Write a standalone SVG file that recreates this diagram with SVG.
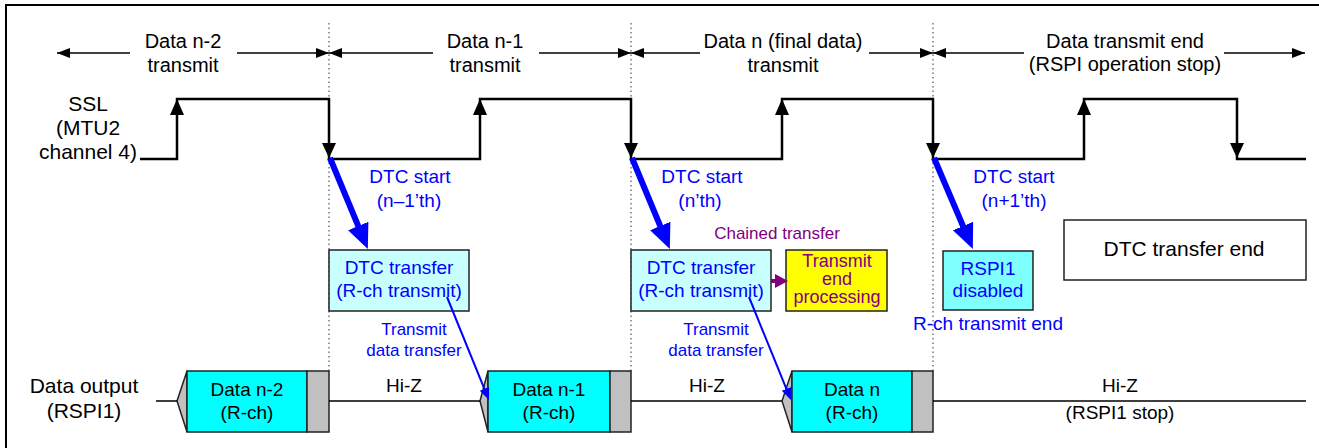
<svg xmlns="http://www.w3.org/2000/svg" width="1319" height="448" viewBox="0 0 1319 448">
<style>
text{font-family:"Liberation Sans",Arial,Helvetica,sans-serif;font-size:19px;text-anchor:middle;fill:#000}
.b{fill:#0000FF}
.p{fill:#800080}
.s17{font-size:17px}
.s18{font-size:18px}
.s20{font-size:20px}
.s21{font-size:21px}
.dot{stroke:#555;stroke-width:1.2;stroke-dasharray:1.5 3;fill:none}
.dim{stroke:#000;stroke-width:1.5;fill:none}
.wave{stroke:#000;stroke-width:2.5;fill:none}
.hz{stroke:#000;stroke-width:1.5;fill:none}
.cy{fill:#00FFFF;stroke:#222;stroke-width:1.5}
.gr{fill:#C0C0C0;stroke:#222;stroke-width:1.5}
.lc{fill:#C8FFFF;stroke:#222;stroke-width:1.5}
.mc{fill:#80FFFF;stroke:#222;stroke-width:1.5}
.ye{fill:#FFFF00;stroke:#222;stroke-width:1.5}
.wh{fill:#FFFFFF;stroke:#222;stroke-width:1.5}
.ah{fill:#000}
.thick{stroke:#0000FF;stroke-width:6;fill:none}
.thin{stroke:#0000FF;stroke-width:2;fill:none}
.pl{stroke:#800080;stroke-width:4;fill:none}
</style>
<defs>
<marker id="bigB" markerUnits="userSpaceOnUse" markerWidth="26" markerHeight="24" refX="2" refY="11" orient="auto"><path d="M0,0L25,11L0,22z" fill="#0000FF"/></marker>
<marker id="smB" markerUnits="userSpaceOnUse" markerWidth="13" markerHeight="11" refX="1" refY="5" orient="auto"><path d="M0,0L12,5L0,10z" fill="#0000FF"/></marker>
<marker id="pu" markerUnits="userSpaceOnUse" markerWidth="14" markerHeight="15" refX="1" refY="7" orient="auto"><path d="M0,0L13,7L0,14z" fill="#800080"/></marker>
<marker id="dimA" markerUnits="userSpaceOnUse" markerWidth="14" markerHeight="11" refX="13" refY="5" orient="auto"><path d="M0,0L13,5L0,10z" fill="#000"/></marker>
</defs>

<rect x="6" y="5" width="1330" height="460" fill="none" stroke="#000" stroke-width="2"/>

<g id="guides">
<line class="dot" x1="329" y1="23" x2="329" y2="371"/>
<line class="dot" x1="631" y1="23" x2="631" y2="371"/>
<line class="dot" x1="933" y1="23" x2="933" y2="371"/>
</g>

<g id="period-labels">
<text class="s20" x="183" y="48">Data n-2</text><text class="s20" x="183" y="72">transmit</text>
<text class="s20" x="485" y="48">Data n-1</text><text class="s20" x="485" y="72">transmit</text>
<text class="s20" x="783" y="48">Data n (final data)</text><text class="s20" x="783" y="72">transmit</text>
<text class="s20" x="1125" y="48">Data transmit end</text><text class="s20" x="1125" y="71">(RSPI operation stop)</text>
</g>

<g id="ssl">
<text class="s21" x="88" y="111">SSL</text>
<text class="s21" x="88" y="135">(MTU2</text>
<text class="s21" x="88" y="159">channel 4)</text>
<path class="wave" d="M140,159H177V99H329V159H480V99H631V159H782V99H933V159H1084V99H1237V159H1306"/>
<polygon class="ah" points="177,99 170,115 184,115"/>
<polygon class="ah" points="480,99 473,115 487,115"/>
<polygon class="ah" points="782,99 775,115 789,115"/>
<polygon class="ah" points="1084,99 1077,115 1091,115"/>
<polygon class="ah" points="329,158 322,143 336,143"/>
<polygon class="ah" points="631,158 624,143 638,143"/>
<polygon class="ah" points="933,158 926,143 940,143"/>
<polygon class="ah" points="1237,158 1230,143 1244,143"/>
</g>

<g id="dtc-start-labels">
<text class="b" x="410" y="183">DTC start</text><text class="b" x="409" y="207">(n–1’th)</text>
<text class="b" x="702" y="183">DTC start</text><text class="b" x="700" y="207">(n’th)</text>
<text class="b" x="1014" y="183">DTC start</text><text class="b" x="1014" y="207">(n+1’th)</text>
<text class="p s17" x="777" y="239">Chained transfer</text>
<text class="b s17" x="414" y="335">Transmit</text><text class="b s17" x="414" y="356">data transfer</text>
<text class="b s17" x="716" y="335">Transmit</text><text class="b s17" x="716" y="356">data transfer</text>
<text class="b" x="988" y="330">R-ch transmit end</text>
</g>

<g id="dtc-transfer-1">
<rect class="lc" x="329" y="250" width="140" height="61"/>
<text class="b" x="399" y="274">DTC transfer</text>
<text class="b" x="399" y="297">(R-ch transmit)</text>
</g>
<g id="dtc-transfer-2">
<rect class="lc" x="631" y="250" width="140" height="61"/>
<text class="b" x="701" y="274">DTC transfer</text>
<text class="b" x="701" y="297">(R-ch transmit)</text>
</g>
<g id="transmit-end-processing">
<rect class="ye" x="786" y="250" width="101" height="61"/>
<text class="p s18" x="837" y="267">Transmit</text>
<text class="p s18" x="837" y="285">end</text>
<text class="p s18" x="837" y="303">processing</text>
</g>
<g id="rspi1-disabled">
<rect class="mc" x="943" y="251" width="90" height="59"/>
<text class="b" x="988" y="275">RSPI1</text>
<text class="b" x="988" y="297">disabled</text>
</g>
<g id="dtc-transfer-end">
<rect class="wh" x="1064" y="220" width="242" height="60"/>
<text class="s21" x="1184" y="256">DTC transfer end</text>
</g>

<g id="data-output">
<text class="s21" x="84" y="393">Data output</text>
<text class="s21" x="84" y="418">(RSPI1)</text>
<text x="404" y="392">Hi-Z</text>
<text x="707" y="392">Hi-Z</text>
<text x="1120" y="392">Hi-Z</text>
<text x="1120" y="419">(RSPI1 stop)</text>
</g>

<g id="data-n-2">
<polygon class="gr" points="177,401 187,371 187,432"/>
<rect class="cy" x="187" y="371" width="120" height="61"/>
<rect class="gr" x="307" y="371" width="22" height="61"/>
<text x="247" y="396">Data n-2</text><text x="247" y="419">(R-ch)</text>
</g>
<g id="data-n-1">
<polygon class="gr" points="480,401 488,371 488,432"/>
<rect class="cy" x="488" y="371" width="122" height="61"/>
<rect class="gr" x="610" y="371" width="21" height="61"/>
<text x="549" y="396">Data n-1</text><text x="549" y="419">(R-ch)</text>
</g>
<g id="data-n">
<polygon class="gr" points="782,401 792,371 792,432"/>
<rect class="cy" x="792" y="371" width="120" height="61"/>
<rect class="gr" x="912" y="371" width="21" height="61"/>
<text x="852" y="396">Data n</text><text x="852" y="419">(R-ch)</text>
</g>

<g id="connectors">
<path class="hz" d="M156,401H177M329,401H480M631,401H782M933,401H1306"/>
<line class="dim" x1="130" y1="53" x2="57" y2="53" marker-end="url(#dimA)"/>
<line class="dim" x1="237" y1="53" x2="329" y2="53" marker-end="url(#dimA)"/>
<line class="dim" x1="433" y1="53" x2="329" y2="53" marker-end="url(#dimA)"/>
<line class="dim" x1="539" y1="53" x2="631" y2="53" marker-end="url(#dimA)"/>
<line class="dim" x1="700" y1="53" x2="631" y2="53" marker-end="url(#dimA)"/>
<line class="dim" x1="869" y1="53" x2="933" y2="53" marker-end="url(#dimA)"/>
<line class="dim" x1="1024" y1="53" x2="933" y2="53" marker-end="url(#dimA)"/>
<line class="dim" x1="1224" y1="53" x2="1305" y2="53" marker-end="url(#dimA)"/>
<line class="thick" x1="330" y1="158" x2="359" y2="227.8" marker-end="url(#bigB)"/>
<line class="thick" x1="632" y1="158" x2="661" y2="227.8" marker-end="url(#bigB)"/>
<line class="thick" x1="934" y1="158" x2="963.8" y2="227.9" marker-end="url(#bigB)"/>
<line class="thin" x1="447" y1="297" x2="484.8" y2="389.8" marker-end="url(#smB)"/>
<line class="thin" x1="749" y1="297" x2="786.8" y2="389.8" marker-end="url(#smB)"/>
<line class="pl" x1="771" y1="281" x2="776" y2="281" marker-end="url(#pu)"/>
</g>
</svg>
